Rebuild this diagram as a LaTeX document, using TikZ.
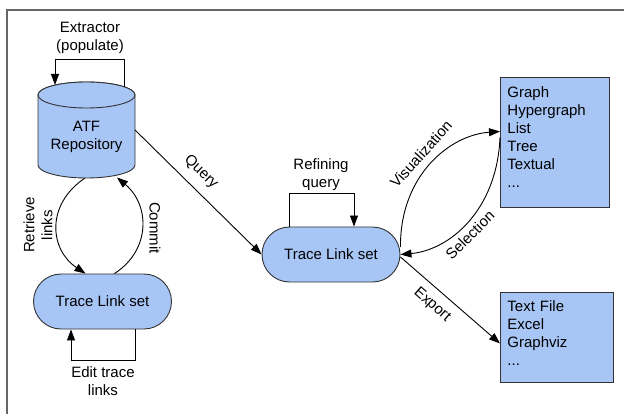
\documentclass[tikz,border=0pt]{standalone}
\usepackage{fontspec}
\setmainfont{Liberation Sans}
\usetikzlibrary{arrows.meta,calc}
\definecolor{boxblue}{HTML}{A7C6F6}
\definecolor{edgegray}{HTML}{333333}
\definecolor{framegray}{HTML}{666666}
\begin{document}
\begin{tikzpicture}[x=1pt,y=-1pt, font=\fontsize{15}{18}\selectfont,
  arr/.style={draw=black, line width=0.9pt, -{Triangle[length=11pt,width=8pt]}},
  blob/.style={draw=edgegray, fill=boxblue, line width=0.9pt},
  pill/.style={blob, rounded corners=27.5pt, minimum width=138pt, minimum height=55pt, inner sep=0pt},
  listbox/.style={blob, anchor=north west, align=left, inner xsep=7pt},
  lbl/.style={align=center, inner sep=1pt}]
\useasboundingbox (0,0) rectangle (624,414);
\draw[framegray, line width=1.6pt] (7,414) -- (7,10) -- (624,10);

% cylinder
\path[blob] (38,95) -- (38,165) arc[start angle=180,end angle=360,x radius=48.5pt,y radius=13pt]
  -- (135,95) arc[start angle=0,end angle=180,x radius=48.5pt,y radius=13pt] -- cycle;
\draw[blob] (86.5,95) ellipse[x radius=48.5pt, y radius=13pt];
\node[lbl] (repo) at (86.5,137) {ATF\\Repository};
\coordinate (cylTL) at (55,85);
\coordinate (cylTR) at (124,87);
\coordinate (cylBL) at (85,178);
\coordinate (cylBR) at (117,177.5);
\coordinate (cylE) at (135,130);

\node[pill] (low) at (102.5,301.5) {Trace Link set};
\node[pill] (mid) at (331,254.5) {Trace Link set};
\node[listbox, minimum width=109pt, minimum height=130pt, text width=95pt] (vis) at (500,77)
  {Graph\\Hypergraph\\List\\Tree\\Textual\\...\\[-8pt]\mbox{}};
\node[listbox, minimum width=113pt, minimum height=90pt, text width=99pt] (exp) at (500,292)
  {Text File\\Excel\\Graphviz\\...\\[-10pt]\mbox{}};

% labels
\node[lbl] (extl) at (90,38) {Extractor\\(populate)};
\node[lbl] (editl) at (103,381) {Edit trace\\links};
\node[lbl] (refl) at (321,174.5) {Refining\\query};
\node[lbl, rotate=90] (retl) at (38,225) {Retrieve\\links};
\node[lbl, rotate=-90] (coml) at (155,228) {Commit};
\node[lbl, rotate=-44] (qryl) at (201,172) {Query};
\node[lbl, rotate=48] (visl) at (421,154) {Visualization};
\node[lbl, rotate=45] (sell) at (470,235) {Selection};
\node[lbl, rotate=-41] (expl) at (432,305) {Export};

% connectors
\draw[arr] (cylTR) -- ++(0,-28) -| (cylTL);
\draw[arr] ([xshift=32.5pt]low.south) -- ++(0,31) -| ([xshift=-31.5pt]low.south);
\draw[arr] ([xshift=-42pt]mid.north) -- ++(0,-33) -| ([xshift=23pt]mid.north);
\draw[arr] (cylBL) .. controls (45,205) and (50,250) .. ([xshift=-17pt]low.north);
\draw[arr] ([xshift=12pt]low.north) .. controls (151,250) and (150,205) .. (cylBR);
\draw[arr] (cylE) -- (mid.west);
\draw[arr] ([yshift=7.5pt]mid.east) .. controls (400,175) and (450,135) .. ([yshift=11pt]vis.west);
\draw[arr] ([yshift=5pt]vis.west) .. controls (497,210) and (450,250) .. (mid.east);
\draw[arr] ([yshift=-2.5pt]mid.east) -- ([yshift=-6pt]exp.west);
\end{tikzpicture}
\end{document}
